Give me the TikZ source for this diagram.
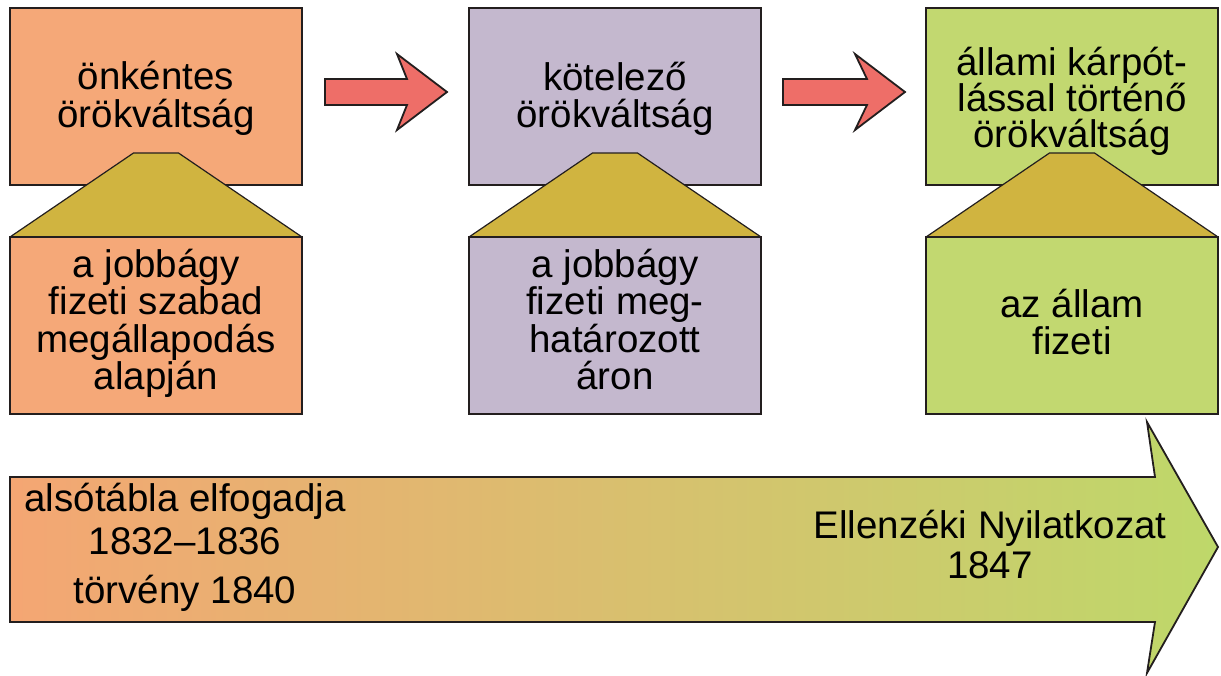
\documentclass[tikz,border=0pt]{standalone}
\usepackage{fontspec}
\setmainfont{Liberation Sans}
\usetikzlibrary{calc}
\definecolor{peach}{RGB}{245,168,120}
\definecolor{lavender}{RGB}{196,184,206}
\definecolor{lime}{RGB}{194,216,112}
\definecolor{gold}{RGB}{208,180,64}
\definecolor{redarr}{RGB}{238,110,104}
\definecolor{outline}{RGB}{35,30,30}
\definecolor{gradL}{RGB}{244,166,115}
\definecolor{gradM}{RGB}{226,192,120}
\definecolor{gradR}{RGB}{190,216,106}
\newcommand\mylines[1]{\vtop{\lineskiplimit=-100pt\lineskip=0pt\baselineskip=37.5pt\halign{\hfil##\hfil\cr #1\crcr}}}
\newcommand\gap[1]{\noalign{\vskip #1}}
\begin{document}
\begin{tikzpicture}[x=1pt,y=-1pt,
  box/.style={draw=outline, line width=1.8pt, minimum width=292pt, minimum height=177pt, inner sep=0pt, outer sep=0pt},
  roof/.style={draw=outline, line width=1.2pt, fill=gold, line join=round},
  redarrow/.style={draw=outline, line width=1.8pt, fill=redarr, line join=miter},
  bigarrow/.style={draw=outline, line width=1.8pt, left color=gradL, middle color=gradM, right color=gradR, line join=miter},
  lbl/.style={anchor=base, inner sep=0pt, font=\fontsize{38.5}{37.5}\selectfont},
]
\useasboundingbox (0,0) rectangle (1221,675);
\fill[white] (0,0) rectangle (1221,675);

% top boxes
\node[box, fill=peach]    (t1) at (156,96.5) {};
\node[box, fill=lavender] (t2) at (615,96.5) {};
\node[box, fill=lime]     (t3) at (1072,96.5) {};

% roofs
\draw[roof] ($(t1.south)+(-146,52)$) -- ($(t1.south)+(-22.5,-32)$) -- ($(t1.south)+(22.5,-32)$) -- ($(t1.south)+(146,52)$) -- cycle;
\draw[roof] ($(t2.south)+(-146,52)$) -- ($(t2.south)+(-22.5,-32)$) -- ($(t2.south)+(22.5,-32)$) -- ($(t2.south)+(146,52)$) -- cycle;
\draw[roof] ($(t3.south)+(-146,52)$) -- ($(t3.south)+(-22.5,-32)$) -- ($(t3.south)+(22.5,-32)$) -- ($(t3.south)+(146,52)$) -- cycle;

% bottom boxes
\node[box, fill=peach]    (b1) at (156,325.5) {};
\node[box, fill=lavender] (b2) at (615,325.5) {};
\node[box, fill=lime]     (b3) at (1072,325.5) {};

% red arrows between top boxes
\draw[redarrow] ($(t1.east)+(23,-17.5)$) -- ++(82,0) -- ++(-10,-25) -- ++(50,38) -- ++(-50,38) -- ++(10,-25) -- ++(-82,0) -- cycle;
\draw[redarrow] ($(t2.east)+(22,-17.5)$) -- ++(84,0) -- ++(-12,-25) -- ++(50,38) -- ++(-50,38) -- ++(12,-25) -- ++(-84,0) -- cycle;

% big timeline arrow
\coordinate (aL) at (10,477);
\draw[bigarrow] (aL) -- (1155,477) -- (1147,422) -- (1218,547) -- (1147,673) -- (1155,622) -- (10,622) -- cycle;

% texts
\node[lbl] (t1txt) at (156,89.5) {\mylines{önkéntes\cr örökváltság}};
\node[lbl] (t2txt) at (615,90) {\mylines{kötelező\cr örökváltság}};
\node[lbl] (t3txt) at (1072,75) {\mylines{állami kárpót-\cr\gap{-1pt} lással történő\cr\gap{-1.5pt} örökváltság}};
\node[lbl] (b1txt) at (156,277) {\mylines{a jobbágy\cr fizeti szabad\cr megállapodás\cr alapján}};
\node[lbl] (b2txt) at (615,277) {\mylines{a jobbágy\cr fizeti meg-\cr határozott\cr áron}};
\node[lbl] (b3txt) at (1072,317) {\mylines{az állam\cr fizeti}};
\node[lbl] (lefttxt) at (185,511) {\mylines{alsótábla elfogadja\cr\gap{5.5pt} 1832–1836\cr\gap{11.5pt} törvény 1840}};
\node[lbl] (righttxt) at (990,538) {\mylines{Ellenzéki Nyilatkozat\cr\gap{2.5pt} 1847}};
\end{tikzpicture}
\end{document}
